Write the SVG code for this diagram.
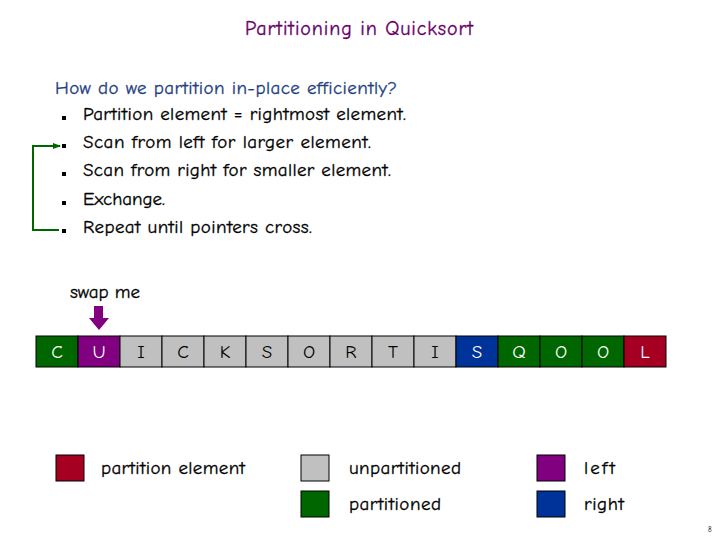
<svg xmlns="http://www.w3.org/2000/svg" width="720" height="540" viewBox="0 0 720 540">
<style>
text{font-family:"Comic Neue","DejaVu Sans","Liberation Sans",sans-serif}
.t{font-size:19px;fill:#000;stroke:#000;stroke-width:0.3}
.cell{stroke:#000;stroke-width:1}
.cl{font-size:19px;text-anchor:middle}
.w{fill:#fff}
.k{fill:#000}
.lg{stroke:#000;stroke-width:1}
.g{fill:#C0C0C0}.gr{fill:#006600}.pu{fill:#800080}.bl{fill:#003399}.rd{fill:#A50021}
.bul{fill:#000}
</style>
<defs>
<marker id="ah" markerWidth="8" markerHeight="8" refX="7" refY="4" orient="auto" markerUnits="userSpaceOnUse">
<path d="M0,1 L8,4 L0,7 Z" fill="#006600"/>
</marker>
</defs>
<text x="245" y="35" textLength="228" lengthAdjust="spacing" style="font-size:20px;fill:#660066;stroke:#660066;stroke-width:0.3">Partitioning in Quicksort</text>
<g id="bullets">
<text x="55" y="94" textLength="342" lengthAdjust="spacing" style="font-size:19px;fill:#1F3F7F;stroke:#1F3F7F;stroke-width:0.3">How do we partition in-place efficiently?</text>
<rect class="bul" x="62" y="116" width="4" height="4"/><text class="t" x="83" y="120" textLength="323" lengthAdjust="spacing">Partition element = rightmost element.</text>
<rect class="bul" x="62" y="144" width="4" height="4"/><text class="t" x="83" y="148" textLength="288" lengthAdjust="spacing">Scan from left for larger element.</text>
<rect class="bul" x="62" y="172" width="4" height="4"/><text class="t" x="83" y="176" textLength="308" lengthAdjust="spacing">Scan from right for smaller element.</text>
<rect class="bul" x="62" y="201" width="4" height="4"/><text class="t" x="83" y="205" textLength="82" lengthAdjust="spacing">Exchange.</text>
<rect class="bul" x="62" y="229" width="4" height="4"/><text class="t" x="83" y="233" textLength="229" lengthAdjust="spacing">Repeat until pointers cross.</text>
</g>
<g id="connectors">
<path d="M59,230 L33,230 L33,146 L60,146" fill="none" stroke="#006600" stroke-width="2" marker-end="url(#ah)"/>
</g>
<g id="swap">
<text class="t" x="70" y="298" textLength="70" lengthAdjust="spacing">swap me</text>
<path d="M94,306 L103,306 L103,318 L109,318 L99,330 L89,318 L94,318 Z" fill="#800080"/>
</g>
<g id="array">
<rect class="cell gr" x="36" y="336" width="42" height="31"/><text class="cl w" x="57" y="358">C</text>
<rect class="cell pu" x="78" y="336" width="42" height="31"/><text class="cl w" x="99" y="358">U</text>
<rect class="cell g" x="120" y="336" width="42" height="31"/><text class="cl k" x="141" y="358">I</text>
<rect class="cell g" x="162" y="336" width="42" height="31"/><text class="cl k" x="183" y="358">C</text>
<rect class="cell g" x="204" y="336" width="42" height="31"/><text class="cl k" x="225" y="358">K</text>
<rect class="cell g" x="246" y="336" width="42" height="31"/><text class="cl k" x="267" y="358">S</text>
<rect class="cell g" x="288" y="336" width="42" height="31"/><text class="cl k" x="309" y="358">O</text>
<rect class="cell g" x="330" y="336" width="42" height="31"/><text class="cl k" x="351" y="358">R</text>
<rect class="cell g" x="372" y="336" width="42" height="31"/><text class="cl k" x="393" y="358">T</text>
<rect class="cell g" x="414" y="336" width="42" height="31"/><text class="cl k" x="435" y="358">I</text>
<rect class="cell bl" x="456" y="336" width="42" height="31"/><text class="cl w" x="477" y="358">S</text>
<rect class="cell gr" x="498" y="336" width="42" height="31"/><text class="cl w" x="519" y="358">Q</text>
<rect class="cell gr" x="540" y="336" width="42" height="31"/><text class="cl w" x="561" y="358">O</text>
<rect class="cell gr" x="582" y="336" width="42" height="31"/><text class="cl w" x="603" y="358">O</text>
<rect class="cell rd" x="624" y="336" width="42" height="31"/><text class="cl w" x="645" y="358">L</text>
</g>
<g id="legend">
<rect class="lg rd" x="56" y="455" width="28" height="26"/><text class="t" x="101" y="474" textLength="144" lengthAdjust="spacing">partition element</text>
<rect class="lg g" x="301" y="455" width="28" height="26"/><text class="t" x="349" y="474" textLength="112" lengthAdjust="spacing">unpartitioned</text>
<rect class="lg gr" x="301" y="491" width="28" height="26"/><text class="t" x="349" y="510" textLength="92" lengthAdjust="spacing">partitioned</text>
<rect class="lg pu" x="537" y="455" width="28" height="26"/><text class="t" x="584" y="474" textLength="31" lengthAdjust="spacing">left</text>
<rect class="lg bl" x="537" y="491" width="28" height="26"/><text class="t" x="584" y="510" textLength="40" lengthAdjust="spacing">right</text>
</g>
<text x="708" y="532" style="font-size:7px;fill:#000">8</text>
</svg>
